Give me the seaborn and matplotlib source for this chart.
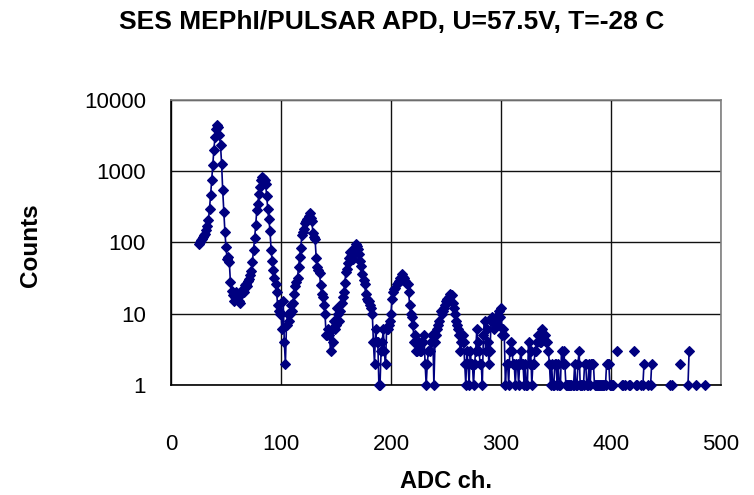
import numpy as np
import pandas as pd
import matplotlib
matplotlib.use("Agg")
import matplotlib.pyplot as plt
import seaborn as sns
from matplotlib.ticker import FixedLocator, FixedFormatter, NullLocator

# ---------------- data ----------------
first_channel = 25
counts = [
    96, 101, 107, 112, 119, 125, 132, 147, 170, 203,        # 25-34
    297, 456, 740, 1200, 1990, 3000, 3920, 4370, 4140, 3160, # 35-44
    2300, 1260, 536, 266, 140, 86, 59, 62, 53, 28,          # 45-54
    21, 18, 15, 17, 20, 16, 17, 15, 14, 19,                 # 55-64
    22, 20, 25, 26, 24, 29, 31, 35, 40, 53,                 # 65-74
    77, 113, 173, 282, 346, 480, 597, 740, 824, 790,        # 75-84
    740, 650, 445, 290, 210, 144, 79, 54, 41, 32,           # 85-94
    26, 20, 13, 11, 10, 10, 6, 15, 4, 2,                    # 95-104
    7, 10, 8, 10, 13, 11, 14, 19, 24, 28,                   # 105-114
    32, 45, 63, 84, 128, 140, 151, 188, 200, 210,           # 115-124
    235, 258, 220, 200, 136, 120, 110, 60, 45, 41,          # 125-134
    37, 25, 19, 17, 13, 10, 5, 5, 6, 5,                     # 135-144
    3, 6, 4, 8, 6, 7, 12, 10, 8, 11,                        # 145-154
    14, 17, 20, 27, 38, 42, 52, 60, 72, 65,                 # 155-164
    58, 70, 85, 95, 88, 80, 68, 55, 47, 36,                 # 165-174
    30, 26, 19, 16, 15, 15, 13, 12, 10, 4,                  # 175-184
    2, 6, 4, 4, 1, 1, 3, 4, 6, 3,                           # 185-194
    2, 6, 6, 7, 8, 10, 16, 20, 22, 23,                      # 195-204
    26, 27, 29, 32, 30, 36, 33, 32, 29, 27,                 # 205-214
    26, 20, 13, 10, 9, 7, 4, 5, 3, 3,                       # 215-224
    4, 3, 3, 4, 4, 5, 2, 1, 2, 3,                           # 225-234
    3, 4, 5, 5, 1, 4, 5, 6, 7, 8,                           # 235-244
    11, 10, 11, 12, 13, 15, 16, 16, 17, 19,                 # 245-254
    18, 14, 12, 10, 8, 7, 6, 5, 3, 4,                       # 255-264
    5, 4, 2, 1, 3, 2, 1, 3, 2, 2,                           # 265-274
    1, 2, 3, 6, 4, 3, 2, 2, 1, 5,                           # 275-284
    8, 3, 6, 4, 2, 3, 8, 9, 8, 6,                           # 285-294
    9, 7, 7, 11, 9, 12, 5, 6, 5, 1,                         # 295-304
    2, 2, 1, 3, 4, 3, 2, 2, 1, 2,                           # 305-314
    2, 1, 2, 3, 2, 2, 1, 2, 1, 1,                           # 315-324
    4, 2, 3, 1, 2, 2, 3, 3, 4, 5,                           # 325-334
    4, 4, 6, 5, 5, 5, 4, 4, 3, 2,                           # 335-344
    1, 2, 1, 1, 2, 2, 1, 2, 1, 1,                           # 345-354
    3, 2, 3, 2, 1, 1, 1, 1, 1, 1,                           # 355-364
    1, 1, 2, 1, 1, 2, 3, 1, 1, 1,                           # 365-374
    1, 2, 2, 1, 1, 2, 1, 2, 2, 2,                           # 375-384
    1, 1, 1, 1, 1, 1, 1, 1, 1, 1,                           # 385-394
    1, 2, 2, 2, 1, 1, 1, 1, 0, 0,                           # 395-404
    3, 0, 0, 0, 0, 1, 1, 0, 1, 0,                           # 405-414
    0, 1, 1, 0, 0, 0, 3, 0, 1, 1,                           # 415-424
    0, 0, 1, 0, 1, 2, 0, 0, 0, 1,                           # 425-434
    0, 1, 2, 0, 0, 0, 0, 0, 0, 0,                           # 435-444
    0, 0, 0, 0, 0, 0, 0, 0, 0, 1,                           # 445-454
    1, 0, 0, 0, 0, 0, 0, 0, 2, 0,                           # 455-464
    0, 0, 0, 0, 0, 1, 3, 0, 0, 0,                           # 465-474
    0, 0, 1, 0, 0, 0, 0, 0, 0, 0,                           # 475-484
    1, 0,                                                   # 485-486
]
x_ticks = [0, 100, 200, 300, 400, 500]
y_ticks = [1, 10, 100, 1000, 10000]
y_tick_labels = ["1", "10", "100", "1000", "10000"]
title = "SES MEPhI/PULSAR APD, U=57.5V, T=-28 C"
x_label = "ADC ch."
y_label = "Counts"

# ---------------- table ----------------
channels = np.arange(first_channel, first_channel + len(counts))
vals = np.array(counts, dtype=float)
vals[vals <= 0] = np.nan            # zero counts leave gaps on a log axis
seg = np.cumsum(np.isnan(vals))      # contiguous runs between gaps
df = pd.DataFrame({"ch": channels, "counts": vals, "seg": seg}).dropna()

# ---------------- figure ----------------
sns.set_theme(style="white")
plt.rcParams["font.family"] = ["Liberation Sans", "DejaVu Sans"]

W, H = 754, 495
fig = plt.figure(figsize=(W / 100, H / 100), dpi=100)
left, right, top, bottom = 171, 721, 99.5, 385
ax = fig.add_axes([left / W, 1 - bottom / H, (right - left) / W, (bottom - top) / H])
ax.set_yscale("log")

navy = "#000080"
sns.lineplot(data=df, x="ch", y="counts", units="seg", estimator=None,
             color=navy, marker="D", markersize=4.8, markeredgewidth=0.8,
             markeredgecolor=navy, linewidth=1.2, legend=False, ax=ax,
             sort=False)
for ln in ax.lines:
    ln.set_clip_on(False)
    ln.set_zorder(5)

ax.set_xlim(0, 500)
ax.set_ylim(1, 10000)
ax.xaxis.set_major_locator(FixedLocator(x_ticks))
ax.yaxis.set_major_locator(FixedLocator(y_ticks))
ax.yaxis.set_major_formatter(FixedFormatter(y_tick_labels))
ax.yaxis.set_minor_locator(NullLocator())
ax.grid(True, which="major", color="#111111", linewidth=1.0)
ax.set_axisbelow(True)
ax.set_facecolor("white")

for s in ["left", "bottom"]:
    ax.spines[s].set_color("black")
    ax.spines[s].set_linewidth(1.2)
for s in ["top", "right"]:
    ax.spines[s].set_color("#808080")
    ax.spines[s].set_linewidth(1.2)

ax.tick_params(axis="both", which="major", direction="out", length=6,
               width=1.0, color="black", labelsize=16, labelcolor="black")
ax.tick_params(axis="x", pad=29)
ax.tick_params(axis="y", pad=12)

ax.set_xlabel("")
ax.set_ylabel("")
fig.text(446 / W, 1 - 482 / H, x_label, ha="center", va="center",
         fontsize=17, fontweight="bold", color="black")
fig.text(30 / W, 1 - 245 / H, y_label, ha="center", va="center",
         rotation=90, fontsize=17.5, fontweight="bold", color="black")
fig.text(392 / W, 1 - 22 / H, title, ha="center", va="center",
         fontsize=19, fontweight="bold", color="black")

fig.savefig("out.png", dpi=100, facecolor="white")
